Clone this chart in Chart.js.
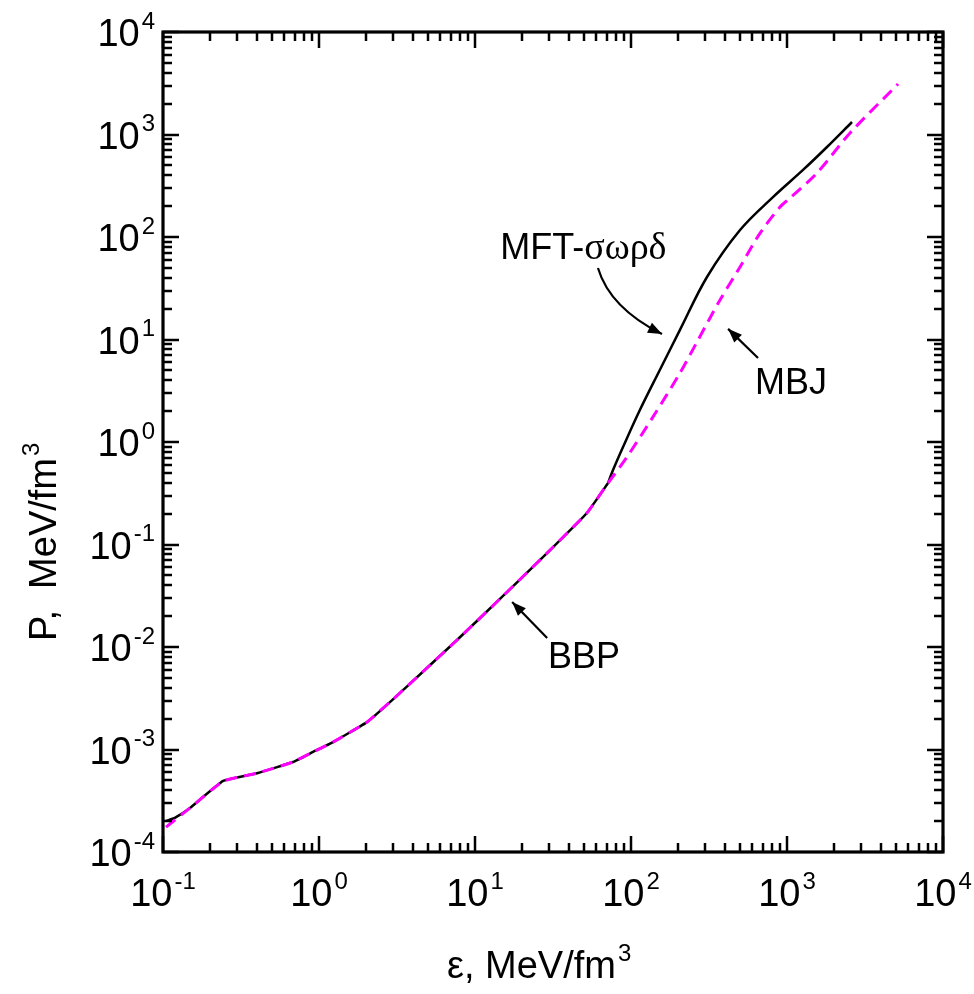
<!DOCTYPE html>
<html><head><meta charset="utf-8">
<script src="https://cdn.jsdelivr.net/npm/chart.js@4/dist/chart.umd.min.js"></script>
<style>html,body{margin:0;padding:0;background:#fff;}</style>
</head><body>
<canvas id="c" width="974" height="994"></canvas>
<script>
// ---- data (energy density eps, pressure P, both MeV/fm^3) ----
// common BBP crust part (both curves coincide up to ~71 MeV/fm^3)
const sharedEps = [0.149, 0.243, 0.406, 0.681, 0.916, 1.23, 2.03, 2.85, 4.92, 7.67, 13.8, 30.3, 52.2, 71.3];
const sharedP   = [2.69e-4, 4.93e-4, 5.9e-4, 7.55e-4, 9.46e-4, 1.18e-3, 1.85e-3, 2.9e-3, 6.24e-3, 0.0117, 0.0275, 0.0883, 0.203, 0.398];

const mftStartEps = [0.1045, 0.119];
const mftStartP   = [2.0e-4, 2.15e-4];
const mftHighEps  = [71.3, 76.7, 88.9, 114, 153, 206, 307, 500, 813, 1267, 1805, 2610];
const mftHighP    = [0.398, 0.533, 0.894, 2.05, 5.04, 12.4, 40.7, 117, 245, 451, 755, 1324];

const mbjStartEps = [0.1045];
const mbjStartP   = [1.75e-4];
const mbjHighEps  = [71.3, 94.2, 138, 206, 269, 372, 500, 672, 902, 1045, 1556, 2535, 5152];
const mbjHighP    = [0.398, 0.714, 1.75, 4.71, 9.89, 24.3, 51, 109, 196, 240, 421, 1035, 3110];

const xExponents = [-1, 0, 1, 2, 3, 4];
const yExponents = [-4, -3, -2, -1, 0, 1, 2, 3, 4];

const xTitle = ['ε, MeV/fm', '3'];
const yTitle = ['P,  MeV/fm', '3'];

const labels = [
  {text: ['MFT-', 'σωρδ'], eps: 14.5, p: 61},
  {text: ['MBJ'], eps: 624, p: 2.94},
  {text: ['BBP'], eps: 29.4, p: 6.24e-3}
];
const arrows = [
  {from: [61.4, 49.9], ctrl: [73.3, 20.3], to: [158, 11.3]},
  {from: [652, 6.6], to: [419, 12.7]},
  {from: [29, 0.01225], to: [17.3, 0.0275]}
];

function pts(epsArr, pArr) { return epsArr.map((e, i) => ({x: e, y: pArr[i]})); }
const mftLow  = pts(mftStartEps.concat(sharedEps), mftStartP.concat(sharedP));
const mbjLow  = pts(mbjStartEps.concat(sharedEps), mbjStartP.concat(sharedP));
const mftHigh = pts(mftHighEps, mftHighP);
const mbjHigh = pts(mbjHighEps, mbjHighP);

const SANS = '"Liberation Sans", Arial, sans-serif';
const SERIF = '"Liberation Serif", "Times New Roman", serif';

function drawPow(ctx, base, exp, x, y, align, size, supSize, font, gap) {
  gap = gap || 1;
  ctx.font = size + 'px ' + font;
  const wb = ctx.measureText(base).width;
  ctx.font = supSize + 'px ' + font;
  const we = ctx.measureText(exp).width;
  const total = wb + we + gap;
  let x0 = x;
  if (align === 'center') x0 = x - total / 2;
  else if (align === 'right') x0 = x - total;
  ctx.textAlign = 'left';
  ctx.textBaseline = 'alphabetic';
  ctx.font = size + 'px ' + font;
  ctx.fillText(base, x0, y);
  ctx.font = supSize + 'px ' + font;
  ctx.fillText(exp, x0 + wb + gap, y - size * 0.46);
  return total;
}

function arrowHead(ctx, x, y, dx, dy) {
  const len = Math.hypot(dx, dy); const ux = dx / len, uy = dy / len;
  const L = 14, W = 5.5;
  ctx.beginPath();
  ctx.moveTo(x, y);
  ctx.lineTo(x - ux * L - uy * W, y - uy * L + ux * W);
  ctx.lineTo(x - ux * L + uy * W, y - uy * L - ux * W);
  ctx.closePath();
  ctx.fill();
}

const decorPlugin = {
  id: 'decor',
  afterDatasetsDraw(chart) {
    const ctx = chart.ctx;
    const xs = chart.scales.x, ys = chart.scales.y;
    const a = chart.chartArea;
    ctx.save();
    ctx.strokeStyle = '#000'; ctx.fillStyle = '#000';
    // ticks
    ctx.lineWidth = 2.5;
    const MAJ = 16, MIN = 9;
    ctx.beginPath();
    xExponents.forEach(e => {
      for (let m = 1; m <= 9; m++) {
        const v = m * Math.pow(10, e);
        if (v > xs.max * 1.0001) break;
        const px = Math.round(xs.getPixelForValue(v));
        const len = m === 1 ? MAJ : MIN;
        ctx.moveTo(px, a.bottom); ctx.lineTo(px, a.bottom - len);
        ctx.moveTo(px, a.top); ctx.lineTo(px, a.top + len);
      }
    });
    yExponents.forEach(e => {
      for (let m = 1; m <= 9; m++) {
        const v = m * Math.pow(10, e);
        if (v > ys.max * 1.0001) break;
        const py = Math.round(ys.getPixelForValue(v));
        const len = m === 1 ? MAJ : MIN;
        ctx.moveTo(a.left, py); ctx.lineTo(a.left + len, py);
        ctx.moveTo(a.right, py); ctx.lineTo(a.right - len, py);
      }
    });
    ctx.stroke();
    // frame
    ctx.lineWidth = 3.2;
    ctx.strokeRect(a.left, a.top, a.right - a.left, a.bottom - a.top);
    // tick labels
    xExponents.forEach(e => {
      const px = xs.getPixelForValue(Math.pow(10, e));
      drawPow(ctx, '10', String(e), px, a.bottom + 54, 'center', 38, 24, SANS, 2);
    });
    yExponents.forEach(e => {
      const py = ys.getPixelForValue(Math.pow(10, e));
      drawPow(ctx, '10', String(e), a.left - 8, py + 14, 'right', 38, 24, SANS, 2);
    });
    // axis titles
    drawPow(ctx, xTitle[0], xTitle[1], 447, 978, 'left', 38, 24, SANS, 2);
    ctx.save();
    ctx.translate(56, 641);
    ctx.rotate(-Math.PI / 2);
    drawPow(ctx, yTitle[0], yTitle[1], 0, 0, 'left', 38, 24, SANS, 2);
    ctx.restore();
    // annotations
    labels.forEach(l => {
      let x = xs.getPixelForValue(l.eps);
      const y = ys.getPixelForValue(l.p);
      ctx.textAlign = 'left'; ctx.textBaseline = 'alphabetic';
      l.text.forEach((t, i) => {
        ctx.font = (i === 0 ? '36px ' + SANS : '38px ' + SERIF);
        ctx.fillText(t, x, y);
        x += ctx.measureText(t).width;
      });
    });
    ctx.lineWidth = 2.2;
    arrows.forEach(ar => {
      const x0 = xs.getPixelForValue(ar.from[0]), y0 = ys.getPixelForValue(ar.from[1]);
      const x1 = xs.getPixelForValue(ar.to[0]), y1 = ys.getPixelForValue(ar.to[1]);
      ctx.beginPath();
      ctx.moveTo(x0, y0);
      let dx, dy;
      if (ar.ctrl) {
        const cxp = xs.getPixelForValue(ar.ctrl[0]), cyp = ys.getPixelForValue(ar.ctrl[1]);
        ctx.quadraticCurveTo(cxp, cyp, x1, y1);
        dx = x1 - cxp; dy = y1 - cyp;
      } else {
        ctx.lineTo(x1, y1);
        dx = x1 - x0; dy = y1 - y0;
      }
      ctx.stroke();
      arrowHead(ctx, x1, y1, dx, dy);
    });
    ctx.restore();
  }
};

const magentaStyle = {borderColor: '#ff00ff', borderWidth: 3, borderDash: [12, 7], pointRadius: 0, fill: false, order: 0};
const blackStyle = {borderColor: '#000000', borderWidth: 2.5, pointRadius: 0, fill: false, order: 1};

new Chart(document.getElementById('c').getContext('2d'), {
  type: 'line',
  data: {
    datasets: [
      Object.assign({label: 'MBJ', data: mbjLow, tension: 0.1}, magentaStyle),
      Object.assign({label: 'MBJ (core)', data: mbjHigh, tension: 0.3}, magentaStyle),
      Object.assign({label: 'MFT-σωρδ', data: mftLow, tension: 0.1}, blackStyle),
      Object.assign({label: 'MFT-σωρδ (core)', data: mftHigh, tension: 0.35}, blackStyle)
    ]
  },
  options: {
    responsive: false,
    animation: false,
    devicePixelRatio: 1,
    layout: {padding: {left: 163, top: 32, right: 31, bottom: 142}},
    plugins: {legend: {display: false}, tooltip: {enabled: false}},
    scales: {
      x: {type: 'logarithmic', min: 0.1, max: 10000, display: false},
      y: {type: 'logarithmic', min: 1e-4, max: 1e4, display: false}
    }
  },
  plugins: [decorPlugin]
});
</script>
</body></html>
